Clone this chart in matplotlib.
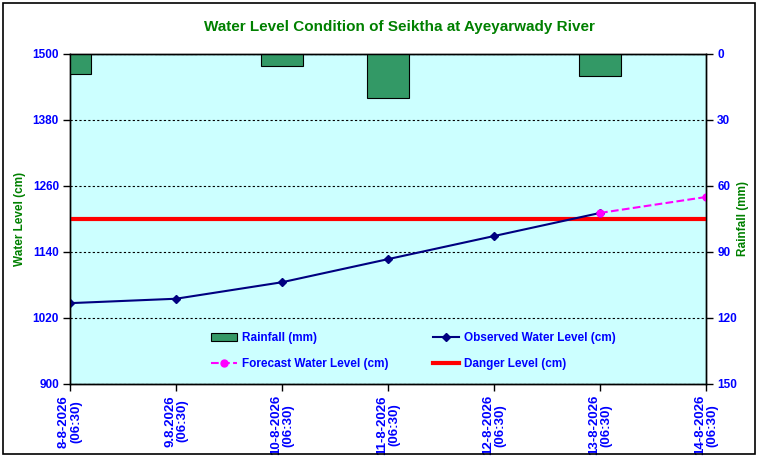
import matplotlib
matplotlib.use("Agg")
import matplotlib.pyplot as plt
from matplotlib.patches import Rectangle

plt.rcParams['font.family'] = ['Liberation Sans', 'DejaVu Sans']

# data
dates = ['8-8-2026\n(06:30)', '9.8.2026\n(06:30)', '10-8-2026\n(06:30)', '11-8-2026\n(06:30)',
         '12-8-2026\n(06:30)', '13-8-2026\n(06:30)', '14-8-2026\n(06:30)']
rainfall = [9.2, 0, 5.3, 20.1, 0, 10.1, 0]
observed = [1047, 1055, 1085, 1127, 1169, 1211]
forecast_x = [5, 6]
forecast = [1211, 1240]
danger = 1200

fig = plt.figure(figsize=(7.6, 4.59), dpi=100)
fig.patches.append(Rectangle((0.004, 0.01), 0.99, 0.983, transform=fig.transFigure,
                             fill=False, edgecolor='black', linewidth=1.2))

ax = fig.add_axes([0.0921, 0.1634, 0.8369, 0.719])
ax.set_facecolor('#CCFFFF')
x = list(range(len(dates)))

ax.set_xlim(0, 6)
ax.set_ylim(900, 1500)
ax.set_yticks([900, 1020, 1140, 1260, 1380, 1500])
ax.yaxis.grid(True, color='black', linestyle=(0, (2, 2)), linewidth=0.8)
ax.set_axisbelow(True)

l_obs, = ax.plot(x[:len(observed)], observed, color='#000080', marker='D', markersize=4,
                 linewidth=1.5, label='Observed Water Level (cm)', zorder=4)
l_fc, = ax.plot(forecast_x, forecast, color='#FF00FF', marker='o', markersize=5,
                linestyle='--', linewidth=1.5, label='Forecast Water Level (cm)', zorder=4)
l_dg = ax.axhline(danger, color='#FF0000', linewidth=3, label='Danger Level (cm)', zorder=3)

ax2 = ax.twinx()
ax2.set_ylim(150, 0)
ax2.set_yticks([0, 30, 60, 90, 120, 150])
bars = ax2.bar(x, rainfall, width=0.4, color='#339966', edgecolor='black', linewidth=0.8,
               label='Rainfall (mm)', zorder=2)

ax.set_xticks(x)
ax.set_xticklabels(dates, rotation=90, ha='center', va='top', linespacing=1.0)
for a in (ax, ax2):
    a.tick_params(axis='y', direction='out', length=5, width=1, colors='black',
                  labelcolor='#0000FF', labelsize=8.5, pad=3)
    for lab in a.get_yticklabels():
        lab.set_fontweight('bold')
    for s in a.spines.values():
        s.set_linewidth(1)
ax.tick_params(axis='x', direction='out', length=5, width=1, colors='black',
               labelcolor='#0000FF', labelsize=9.5, pad=3)
for lab in ax.get_xticklabels():
    lab.set_fontweight('bold')

ax.set_ylabel('Water Level (cm)', color='#008000', fontweight='bold', fontsize=8.5)
ax.yaxis.set_label_coords(-0.069, 0.5)
ax2.set_ylabel('Rainfall (mm)', color='#008000', fontweight='bold', fontsize=8.5, rotation=90)
ax2.yaxis.set_label_coords(1.049, 0.5)

fig.text(0.526, 0.941, 'Water Level Condition of Seiktha at Ayeyarwady River', color='#008000',
         fontweight='bold', fontsize=11, ha='center', va='center')

leg = ax2.legend([bars, l_fc, l_obs, l_dg],
                 ['Rainfall (mm)', 'Forecast Water Level (cm)', 'Observed Water Level (cm)', 'Danger Level (cm)'],
                 ncol=2, loc='center', bbox_to_anchor=(0.54, 0.1), frameon=False,
                 columnspacing=3.8, handlelength=2.2, handletextpad=0.4,
                 labelspacing=1.2, prop={'weight': 'bold', 'size': 8.5})
for t in leg.get_texts():
    t.set_color('#0000FF')

fig.savefig('out.png', dpi=100)
